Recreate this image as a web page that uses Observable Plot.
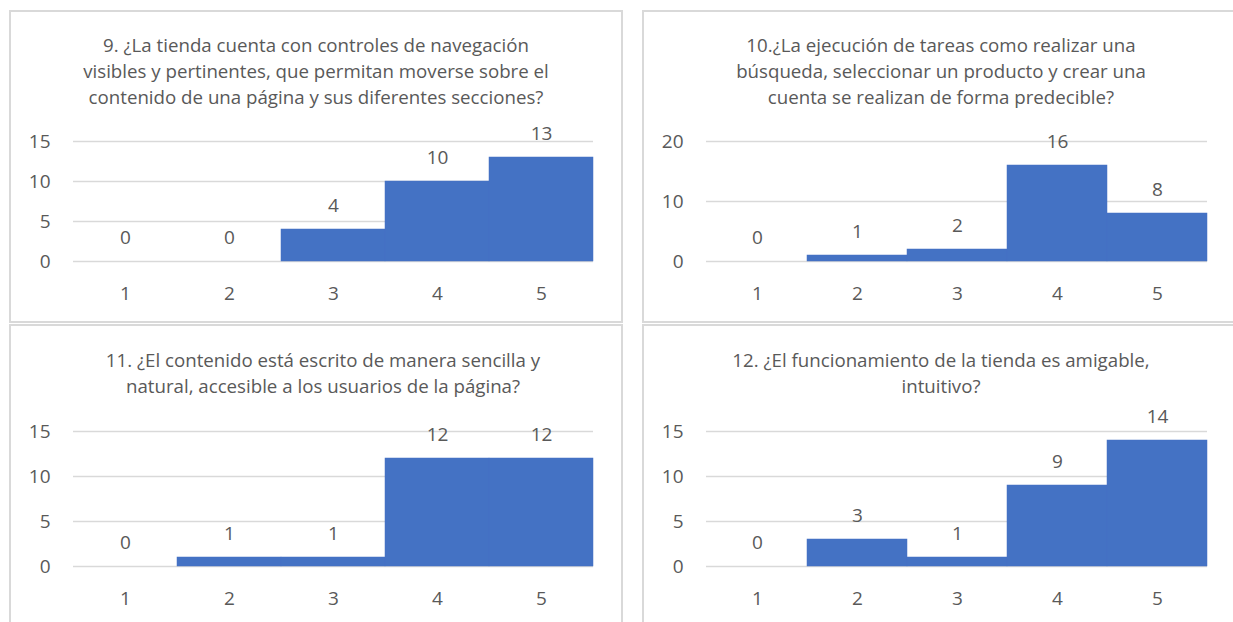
<!DOCTYPE html>
<html><head><meta charset="utf-8">
<script src="https://cdn.jsdelivr.net/npm/d3@7"></script>
<script src="https://cdn.jsdelivr.net/npm/@observablehq/plot@0.6"></script>
<style>
body{margin:0;background:#fff;width:1233px;height:622px;overflow:hidden;position:relative;font-family:"Open Sans",Lato,sans-serif;}
.panel{position:absolute;border:2px solid #d9d9d9;box-sizing:border-box;background:#fff;}
.title{position:absolute;left:0;right:0;text-align:center;color:#595959;font-size:18.7px;line-height:26px;white-space:nowrap;}
.chart{position:absolute;}
</style></head>
<body>
<script>
const categories = ["1", "2", "3", "4", "5"];
const q9Values = [0, 0, 4, 10, 13];
const q10Values = [0, 1, 2, 16, 8];
const q11Values = [0, 1, 1, 12, 12];
const q12Values = [0, 3, 1, 9, 14];
const ticksA = [0, 5, 10, 15];
const ticksB = [0, 10, 20];
const title9 = ["9. ¿La tienda cuenta con controles de navegación", "visibles y pertinentes, que permitan moverse sobre el", "contenido de una página y sus diferentes secciones?"];
const title10 = ["10.¿La ejecución de tareas como realizar una", "búsqueda, seleccionar un producto y crear una", "cuenta se realizan de forma predecible?"];
const title11 = ["11. ¿El contenido está escrito de manera sencilla y", "natural, accesible a los usuarios de la página?"];
const title12 = ["12. ¿El funcionamiento de la tienda es amigable,", "intuitivo?"];

function chart(values, ticks, g) {
  const data = categories.map((c, i) => ({cat: c, value: values[i]}));
  return Plot.plot({
    width: g.w, height: g.h,
    marginLeft: g.ml, marginRight: g.mr, marginTop: g.mt, marginBottom: g.mb,
    style: {fontFamily: "'Open Sans', Lato, sans-serif", fontSize: "19px", color: "#595959", background: "transparent", overflow: "visible"},
    x: {type: "band", domain: categories, padding: 0},
    y: {domain: [0, ticks[ticks.length - 1]]},
    marks: [
      Plot.ruleY(ticks, {stroke: "#d9d9d9", strokeWidth: 1.5}),
      Plot.barY(data, {x: "cat", y: "value", fill: "#4472C4", stroke: "#4472C4", strokeWidth: 0.5}),
      Plot.text(data, {x: "cat", y: "value", text: d => String(d.value), dy: -24, fill: "#595959", fontSize: 19}),
      Plot.axisY(ticks, {tickSize: 0, tickPadding: 23, label: null, fill: "#595959", fontSize: 19}),
      Plot.axisX({tickSize: 0, tickPadding: 25, label: null, fill: "#595959", fontSize: 19})
    ]
  });
}

function panel(box, titleLines, titleTop, titleShift, values, ticks, svgBox, g) {
  const p = document.createElement("div");
  p.className = "panel";
  Object.assign(p.style, {left: box[0] + "px", top: box[1] + "px", width: box[2] + "px", height: box[3] + "px"});
  const t = document.createElement("div");
  t.className = "title";
  t.style.top = titleTop + "px";
  t.style.left = titleShift + "px";
  t.innerHTML = titleLines.join("<br>");
  p.appendChild(t);
  document.body.appendChild(p);
  const c = chart(values, ticks, g);
  const wrap = document.createElement("div");
  wrap.className = "chart";
  wrap.style.left = svgBox[0] + "px";
  wrap.style.top = svgBox[1] + "px";
  wrap.appendChild(c);
  document.body.appendChild(wrap);
}

panel([9, 10, 614, 313], title9, 20, 0, q9Values, ticksA, [9, 110], {w: 614, h: 212, ml: 64, mr: 30, mt: 31, mb: 61});
panel([642, 10, 598, 313], title10, 20, 0, q10Values, ticksB, [642, 110], {w: 591, h: 212, ml: 64, mr: 26, mt: 31, mb: 61});
panel([9, 324, 614, 320], title11, 21, 14, q11Values, ticksA, [9, 410], {w: 614, h: 212, ml: 64, mr: 30, mt: 21, mb: 56});
panel([642, 324, 598, 320], title12, 21, 0, q12Values, ticksA, [642, 410], {w: 591, h: 212, ml: 64, mr: 26, mt: 21, mb: 56});
</script>
</body></html>
